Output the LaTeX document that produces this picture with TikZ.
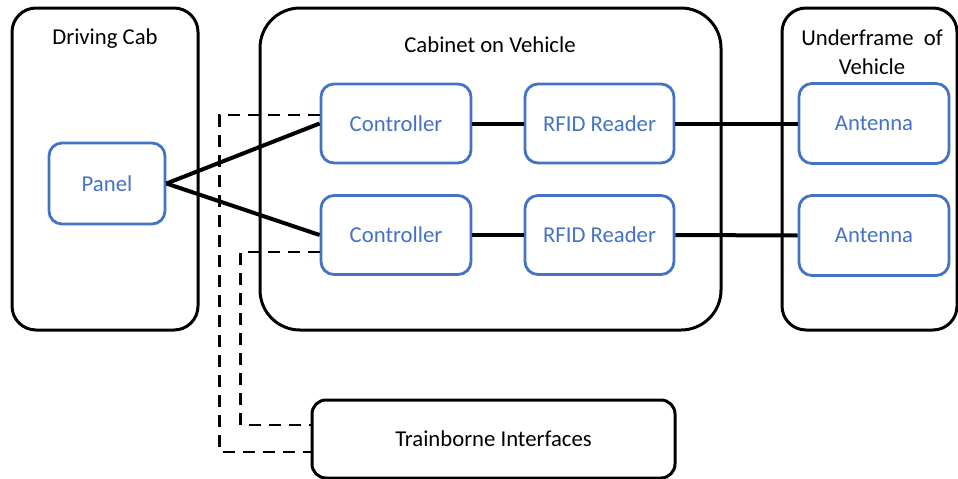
\documentclass[tikz,border=0pt]{standalone}
\usepackage{fontspec}
\setmainfont{Carlito}
\definecolor{officeblue}{HTML}{4472C4}
\begin{document}
\begin{tikzpicture}[x=1pt,y=-1pt,
  every node/.style={font=\fontsize{22.7}{29}\selectfont, inner sep=0pt},
  zone/.style={draw=black, line width=3pt, rounded corners=#1},
  zone/.default=24pt,
  unit/.style={draw=officeblue, line width=2.8pt, rounded corners=13pt,
    text=officeblue, minimum width=150pt, minimum height=79pt},
  link/.style={line width=4pt, black},
  iface/.style={line width=2.8pt, black, dash pattern=on 12pt off 8pt}]
  \useasboundingbox[fill=white] (0,0) rectangle (958,479);
  \clip (0,0) rectangle (958,479);

  % enclosing zones
  \node[zone, minimum width=186pt, minimum height=322pt] (cab) at (105,169) {};
  \node[zone=40pt, minimum width=461pt, minimum height=322pt] (cabinet) at (490.5,169) {};
  \node[zone, minimum width=175pt, minimum height=322pt] (under) at (869.5,169) {};
  \node (cabT) at (105,39) {Driving Cab};
  \node (cabinetT) at (490,45) {Cabinet on Vehicle};
  \node[align=center] (underT) at (872,52) {Underframe\ \ of\\Vehicle};

  % equipment
  \node[unit, minimum width=116pt, minimum height=81pt] (panel) at (107,183.5) {Panel};
  \node[unit] (ctrlA) at (396,123.5) {Controller};
  \node[unit] (ctrlB) at (396,235) {Controller};
  \node[unit, minimum width=149pt] (rfidA) at (599.5,123.5) {RFID Reader};
  \node[unit, minimum width=149pt] (rfidB) at (599.5,235) {RFID Reader};
  \node[unit, minimum height=80pt] (antA) at (874,123.5) {Antenna};
  \node[unit, minimum height=80pt] (antB) at (874,235.5) {Antenna};
  \node[zone=14pt, minimum width=363pt, minimum height=78pt] (tb) at (493.5,439) {Trainborne Interfaces};

  % data links
  \draw[link] (panel.east) -- (ctrlA.west);
  \draw[link] (panel.east) -- (ctrlB.west);
  \draw[link] (ctrlA.east) -- (rfidA.west);
  \draw[link] (ctrlB.east) -- (rfidB.west);
  \draw[link] (rfidA.east) -- (antA.west);
  \draw[link] (rfidB.east) -- (antB.west);

  % interface wiring
  \draw[iface] ([yshift=8.5pt]ctrlA.west) -- ++(-100,0) |- ([yshift=-13pt]tb.west);
  \draw[iface] ([yshift=-17pt]ctrlB.west) -- ++(-79,0) |- ([yshift=14pt]tb.west);
\end{tikzpicture}
\end{document}
